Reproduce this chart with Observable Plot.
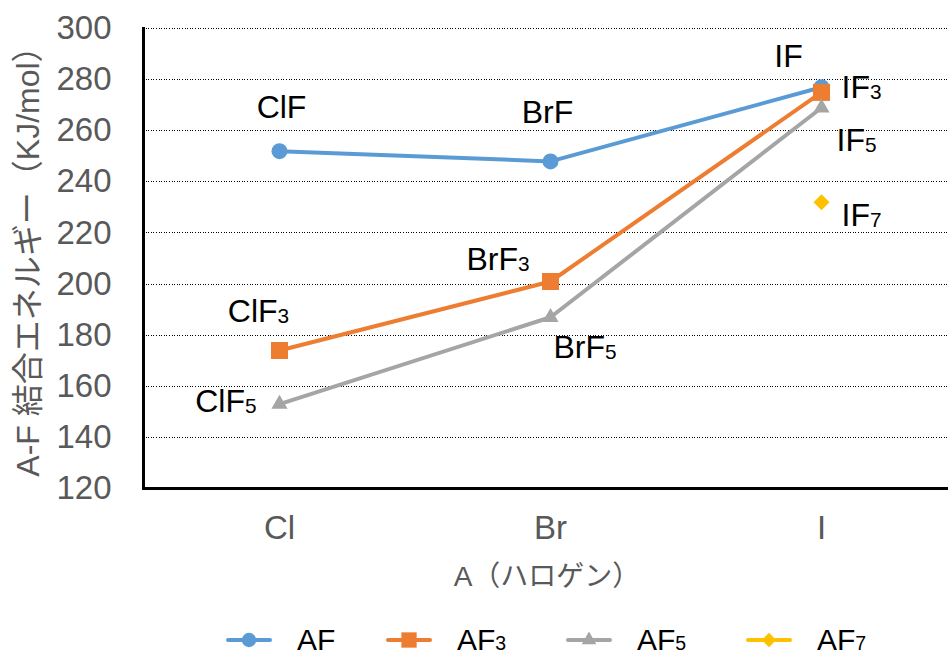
<!DOCTYPE html>
<html><head><meta charset="utf-8">
<script src="https://cdn.jsdelivr.net/npm/d3@7"></script>
<script src="https://cdn.jsdelivr.net/npm/@observablehq/plot@0.6"></script>
<style>
html,body{margin:0;padding:0;background:#fff;overflow:hidden;}
#wrap{width:948px;height:655px;overflow:hidden;position:relative;font-family:"Liberation Sans",Arial,"Noto Sans CJK JP",sans-serif;}
#wrap svg.chart{max-width:none !important;display:block;}
.legend{position:absolute;left:0;top:620px;width:948px;height:40px;font-size:30px;color:#000;}
.item{position:absolute;top:0;height:40px;display:flex;align-items:center;white-space:nowrap;}
.item span.t{margin-left:24px;}
.sub{font-size:0.65em;}
</style></head><body><div id="wrap"></div>
<script>
// ---- data ----
const categories = ["Cl", "Br", "I"];
const seriesNames = ["AF", "AF3", "AF5", "AF7"];
const valuesAF  = [252, 248, 277];
const valuesAF3 = [174, 201, 275];
const valuesAF5 = [153, 187, 269];
const valuesAF7 = [null, null, 232];
const labelsAF  = ["ClF", "BrF", "IF"];
const labelsAF3 = ["ClF3", "BrF3", "IF3"];
const labelsAF5 = ["ClF5", "BrF5", "IF5"];
const labelsAF7 = [null, null, "IF7"];
const yTicks = [120, 140, 160, 180, 200, 220, 240, 260, 280, 300];
const yTitle = "A-F 結合エネルギー（KJ/mol）";
const xTitle = "A（ハロゲン）";

// ---- styles ----
const seriesValues = [valuesAF, valuesAF3, valuesAF5, valuesAF7];
const seriesLabels = [labelsAF, labelsAF3, labelsAF5, labelsAF7];
const seriesStyle = [
  {color: "#5b9bd5", symbol: "circle",   r: 8,   line: true},
  {color: "#ed7d31", symbol: "square",   r: 9.6, line: true},
  {color: "#a5a5a5", symbol: "triangle", r: 6,   line: true},
  {color: "#ffc000", symbol: "diamond2", r: 7.2, line: false}
];
// label placement: [textAnchor, dx, dy] per series per category
const labelPlacement = [
  [["middle", 2, -43], ["middle", -3, -49], ["middle", -33, -31]],
  [["middle", -21, -39], ["end", -21, -22], ["start", 20, -5]],
  [["end", -23, -2], ["start", 3, 30], ["start", 15, 33]],
  [null, null, ["start", 20, 13]]
];

const rows = [];
seriesNames.forEach((s, i) => categories.forEach((c, j) => {
  const v = seriesValues[i][j];
  if (v != null) rows.push({series: s, si: i, ci: j, category: c, value: v, label: seriesLabels[i][j]});
}));

const marks = [
  Plot.gridY(yTicks.filter(t => t > 120), {stroke: "#000", strokeOpacity: 1, strokeWidth: 1, strokeDasharray: "1,1.6", shapeRendering: "crispEdges"}),
  Plot.axisY({ticks: yTicks, tickSize: 0, tickPadding: 32, fontSize: 33, label: null}),
  Plot.axisX({tickSize: 0, tickPadding: 27, fontSize: 33, label: null}),
  Plot.text([yTitle], {frameAnchor: "left", textAnchor: "middle", rotate: -90, dx: -115, dy: -5, fontSize: 32, fill: "#595959"}),
  Plot.text([xTitle], {frameAnchor: "bottom", textAnchor: "middle", dx: -3, dy: 97, fontSize: 28, fill: "#595959"}),
];
seriesNames.forEach((s, i) => {
  const d = rows.filter(r => r.si === i);
  const st = seriesStyle[i];
  if (st.line) marks.push(Plot.line(d, {x: "category", y: "value", stroke: st.color, strokeWidth: 4}));
  marks.push(Plot.dot(d, {x: "category", y: "value", fill: st.color, symbol: st.symbol, r: st.r}));
});
rows.forEach(r => {
  const p = labelPlacement[r.si][r.ci];
  marks.push(Plot.text([r], {x: "category", y: "value", text: "label", textAnchor: p[0], dx: p[1], dy: p[2], fontSize: 32, fill: "#000"}));
});
marks.push(Plot.ruleY([120], {stroke: "#000", strokeWidth: 3}));
marks.push(Plot.frame({anchor: "left", stroke: "#000", strokeWidth: 3}));

const svg = Plot.plot({
  width: 956, height: 605,
  marginTop: 28, marginBottom: 117, marginLeft: 143, marginRight: 0,
  className: "chart",
  x: {type: "point", domain: categories, padding: 0.5},
  y: {domain: [120, 300]},
  style: {fontFamily: "'Liberation Sans', Arial, 'Noto Sans CJK JP', sans-serif", color: "#595959", background: "#fff", overflow: "visible"},
  marks
});
svg.style.maxWidth = "none";
svg.style.width = "956px";
svg.style.height = "605px";
svg.querySelectorAll("text").forEach(t => {
  const m = t.textContent.match(/^((?:Cl|Br|I)F)(\d)$/);
  if (m) {
    t.textContent = m[1];
    const ts = document.createElementNS("http://www.w3.org/2000/svg", "tspan");
    ts.style.fontSize = "0.65em";
    ts.setAttribute("dy", "1");
    ts.textContent = m[2];
    t.appendChild(ts);
  }
});
const wrap = document.getElementById("wrap");
wrap.appendChild(svg);

// ---- legend ----
const legendLeft = [225, 385, 565, 745];
const legend = document.createElement("div");
legend.className = "legend";
seriesNames.forEach((s, i) => {
  const st = seriesStyle[i];
  const item = document.createElement("div");
  item.className = "item";
  item.style.left = legendLeft[i] + "px";
  const sw = d3.create("svg").attr("width", 48).attr("height", 20);
  sw.append("line").attr("x1", 3).attr("x2", 45).attr("y1", 10).attr("y2", 10)
    .attr("stroke", st.color).attr("stroke-width", 4).attr("stroke-linecap", "round");
  const symMap = {circle: d3.symbolCircle, square: d3.symbolSquare, triangle: d3.symbolTriangle, diamond2: d3.symbolDiamond2};
  const rr = st.r * 0.9;
  sw.append("path").attr("transform", "translate(24,10)").attr("fill", st.color)
    .attr("d", d3.symbol(symMap[st.symbol], Math.PI * rr * rr)());
  item.appendChild(sw.node());
  const t = document.createElement("span");
  t.className = "t";
  const m = s.match(/^(AF)(\d?)$/);
  t.innerHTML = m[1] + (m[2] ? '<span class="sub">' + m[2] + '</span>' : "");
  item.appendChild(t);
  legend.appendChild(item);
});
wrap.appendChild(legend);
</script></body></html>
